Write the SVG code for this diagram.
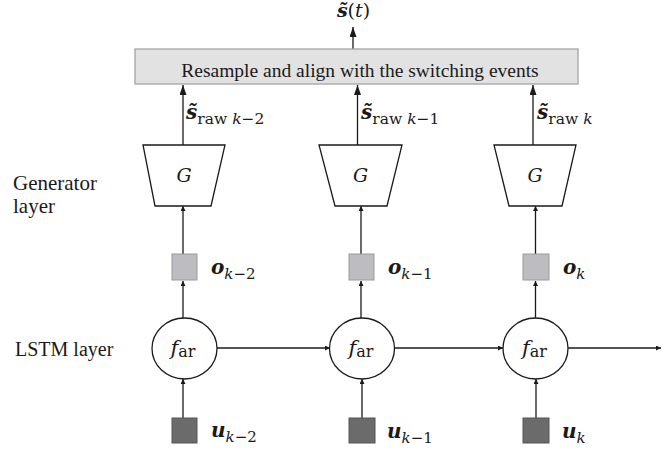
<svg xmlns="http://www.w3.org/2000/svg" width="669" height="452" viewBox="0 0 669 452">
<defs>
<style>
.t{font-family:"Liberation Serif","Times New Roman",serif;fill:#1a1a1a}
.m{font-family:"DejaVu Serif","Liberation Serif",serif;fill:#1a1a1a}
.bi{font-weight:bold;font-style:italic}
.it{font-style:italic}
.ln{stroke:#1a1a1a;stroke-width:1.3;fill:none}
.shape{fill:#fff;stroke:#1a1a1a;stroke-width:1.3}
.osq{fill:#bdbdc1;stroke:#9a9a9a;stroke-width:1}
.usq{fill:#6b6b6b;stroke:#555;stroke-width:1}
</style>
<marker id="big" viewBox="0 0 10 10" refX="10" refY="5" markerWidth="10" markerHeight="7" preserveAspectRatio="none" markerUnits="userSpaceOnUse" orient="auto"><path d="M0,0 L10,5 L0,10 z" fill="#1a1a1a"/></marker>
<marker id="sm" viewBox="0 0 10 10" refX="10" refY="5" markerWidth="5" markerHeight="5" markerUnits="userSpaceOnUse" orient="auto"><path d="M0,0 L10,5 L0,10 z" fill="#1a1a1a"/></marker>
</defs>
<rect width="669" height="452" fill="#fff"/>

<g id="connectors">
<line class="ln" x1="353" y1="49" x2="353" y2="27" marker-end="url(#big)"/>
<line class="ln" x1="183" y1="145" x2="183" y2="85" marker-end="url(#big)"/>
<line class="ln" x1="357.5" y1="145" x2="357.5" y2="85" marker-end="url(#big)"/>
<line class="ln" x1="533" y1="145" x2="533" y2="85" marker-end="url(#big)"/>
<line class="ln" x1="183" y1="254" x2="183" y2="206" marker-end="url(#sm)"/>
<line class="ln" x1="361" y1="254" x2="361" y2="206" marker-end="url(#sm)"/>
<line class="ln" x1="535.5" y1="254" x2="535.5" y2="206" marker-end="url(#sm)"/>
<line class="ln" x1="183" y1="318" x2="183" y2="281" marker-end="url(#sm)"/>
<line class="ln" x1="361" y1="318" x2="361" y2="281" marker-end="url(#sm)"/>
<line class="ln" x1="535.5" y1="318" x2="535.5" y2="281" marker-end="url(#sm)"/>
<line class="ln" x1="183" y1="418" x2="183" y2="379" marker-end="url(#sm)"/>
<line class="ln" x1="362" y1="418" x2="362" y2="379" marker-end="url(#sm)"/>
<line class="ln" x1="536" y1="418" x2="536" y2="379" marker-end="url(#sm)"/>
<line class="ln" x1="217" y1="348" x2="330" y2="348" marker-end="url(#sm)"/>
<line class="ln" x1="394.5" y1="348" x2="503" y2="348" marker-end="url(#sm)"/>
<line class="ln" x1="568" y1="348" x2="661" y2="348" marker-end="url(#sm)"/>
</g>

<g id="output">
<text class="m" x="353.5" y="17" font-size="19" text-anchor="middle"><tspan class="bi">s̃</tspan><tspan>(</tspan><tspan class="it">t</tspan><tspan>)</tspan></text>
</g>

<g id="resample">
<rect x="135" y="49" width="443" height="35" fill="#e2e2e2" stroke="#a3a3a3" stroke-width="1.3"/>
<text class="t" x="360" y="77" font-size="19.5" text-anchor="middle">Resample and align with the switching events</text>
</g>

<g id="labels-s">
<text class="m" x="186" y="119" font-size="20"><tspan class="bi">s̃</tspan><tspan font-size="15.5" dy="5">raw </tspan><tspan font-size="15.5" class="it">k</tspan><tspan font-size="15.5">−2</tspan></text>
<text class="m" x="361" y="119" font-size="20"><tspan class="bi">s̃</tspan><tspan font-size="15.5" dy="5">raw </tspan><tspan font-size="15.5" class="it">k</tspan><tspan font-size="15.5">−1</tspan></text>
<text class="m" x="537" y="119" font-size="20"><tspan class="bi">s̃</tspan><tspan font-size="15.5" dy="5">raw </tspan><tspan font-size="15.5" class="it">k</tspan></text>
</g>

<g id="layer-labels">
<text class="t" x="13" y="190" font-size="21">Generator</text>
<text class="t" x="13" y="213" font-size="21">layer</text>
<text class="t" x="15" y="356" font-size="20">LSTM layer</text>
</g>

<g id="G1">
<polygon class="shape" points="143,145 225,145 211,206 155,206"/>
<text class="m it" x="184" y="182" font-size="19" text-anchor="middle">G</text>
</g>
<g id="G2">
<polygon class="shape" points="319,145 402,145 387,206 335,206"/>
<text class="m it" x="360.5" y="182" font-size="19" text-anchor="middle">G</text>
</g>
<g id="G3">
<polygon class="shape" points="494,145 576,145 562,206 509,206"/>
<text class="m it" x="535" y="182" font-size="19" text-anchor="middle">G</text>
</g>

<g id="o1">
<rect class="osq" x="172" y="254" width="25" height="26"/>
<text class="m" x="211" y="274" font-size="20"><tspan class="bi">o</tspan><tspan font-size="15" dy="5" class="it">k</tspan><tspan font-size="15">−2</tspan></text>
</g>
<g id="o2">
<rect class="osq" x="349" y="254" width="25" height="26"/>
<text class="m" x="388" y="274" font-size="20"><tspan class="bi">o</tspan><tspan font-size="15" dy="5" class="it">k</tspan><tspan font-size="15">−1</tspan></text>
</g>
<g id="o3">
<rect class="osq" x="523" y="254" width="26" height="26"/>
<text class="m" x="563" y="274" font-size="20"><tspan class="bi">o</tspan><tspan font-size="15" dy="5" class="it">k</tspan></text>
</g>

<g id="f1">
<ellipse class="shape" cx="184.5" cy="348.5" rx="32.5" ry="30.5"/>
<text class="m" x="183" y="355" font-size="21" text-anchor="middle"><tspan class="it">f</tspan><tspan font-size="16" dy="2">ar</tspan></text>
</g>
<g id="f2">
<ellipse class="shape" cx="362" cy="348.5" rx="32.5" ry="30.5"/>
<text class="m" x="361" y="355" font-size="21" text-anchor="middle"><tspan class="it">f</tspan><tspan font-size="16" dy="2">ar</tspan></text>
</g>
<g id="f3">
<ellipse class="shape" cx="535.5" cy="348.5" rx="32.5" ry="30.5"/>
<text class="m" x="534.5" y="355" font-size="21" text-anchor="middle"><tspan class="it">f</tspan><tspan font-size="16" dy="2">ar</tspan></text>
</g>

<g id="u1">
<rect class="usq" x="172" y="418" width="25" height="25"/>
<text class="m" x="211" y="437" font-size="20"><tspan class="bi">u</tspan><tspan font-size="15" dy="5" class="it">k</tspan><tspan font-size="15">−2</tspan></text>
</g>
<g id="u2">
<rect class="usq" x="349" y="418" width="26" height="25"/>
<text class="m" x="387" y="438" font-size="20"><tspan class="bi">u</tspan><tspan font-size="15" dy="5" class="it">k</tspan><tspan font-size="15">−1</tspan></text>
</g>
<g id="u3">
<rect class="usq" x="523" y="418" width="26" height="25"/>
<text class="m" x="562" y="438" font-size="20"><tspan class="bi">u</tspan><tspan font-size="15" dy="5" class="it">k</tspan></text>
</g>
</svg>
